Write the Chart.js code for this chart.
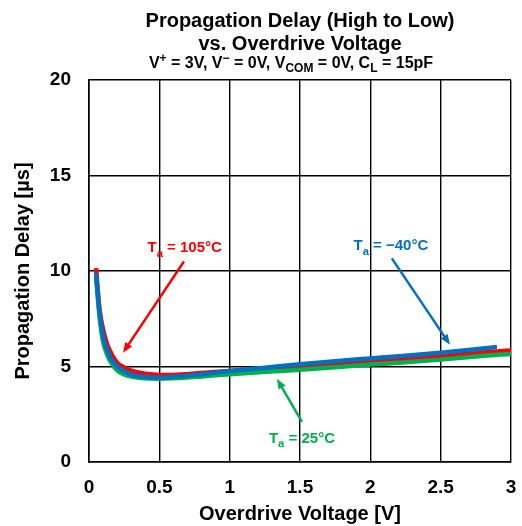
<!DOCTYPE html>
<html>
<head>
<meta charset="utf-8">
<script src="https://cdn.jsdelivr.net/npm/chart.js@4"></script>
<style>
  html, body { margin: 0; padding: 0; background: #fff; }
  #wrap { width: 522px; height: 526px; }
</style>
</head>
<body>
<div id="wrap"><canvas id="chart" width="522" height="526"></canvas></div>
<script>
// Data
const overdrive = [0.05, 0.075, 0.1, 0.125, 0.15, 0.2, 0.25, 0.3, 0.4, 0.5, 0.6, 0.8, 1.0, 1.25, 1.5, 1.75, 2.0, 2.25, 2.5, 2.75, 2.9, 3.0];
const delayMinus40 = [9.9, 7.8, 6.6, 5.95, 5.5, 5.0, 4.75, 4.58, 4.45, 4.42, 4.46, 4.6, 4.76, 4.94, 5.12, 5.28, 5.42, 5.56, 5.72, 5.9, 6.02, null];
const delay25 = [9.7, 7.6, 6.3, 5.7, 5.3, 4.8, 4.58, 4.47, 4.38, 4.36, 4.38, 4.48, 4.6, 4.72, 4.83, 4.96, 5.1, 5.22, 5.36, 5.52, 5.62, 5.65];
const delay105 = [10.15, 8.0, 6.95, 6.25, 5.8, 5.2, 4.95, 4.78, 4.62, 4.56, 4.56, 4.66, 4.76, 4.88, 5.0, 5.13, 5.27, 5.41, 5.55, 5.7, 5.79, 5.84];

const BLUE = "#0070c0", GREEN = "#00b050", RED = "#ff0000";
const FONT = "Liberation Sans, Arial, sans-serif";

// label text, colour, label centre and arrow (data coords)
const labels = [
  { temp: " = 105°C", color: RED, at: [0.68, 11.29], from: [0.675, 10.5], to: [0.242, 5.72] },
  { temp: " = \u221240°C", color: BLUE, at: [2.146, 11.39], from: [2.153, 10.66], to: [2.566, 6.14] },
  { temp: " = 25°C", color: GREEN, at: [1.514, 1.31], from: [1.514, 2.1], to: [1.336, 4.36] }
];

const toPoints = (ys) => overdrive.map((x, i) => ({ x, y: ys[i] }));

// draws text pieces with sub/superscripts, centred at cx
function drawRich(ctx, parts, cx, y, size) {
  const width = (p) => {
    ctx.font = "bold " + (p.sub || p.sup ? size * 0.75 : size) + "px " + FONT;
    return ctx.measureText(p.t).width;
  };
  let total = parts.reduce((s, p) => s + width(p), 0);
  let x = cx - total / 2;
  ctx.textAlign = "left";
  ctx.textBaseline = "alphabetic";
  parts.forEach(p => {
    const w = width(p);
    let dy = 0;
    if (p.sub) dy = size * 0.28;
    if (p.sup) dy = -size * 0.36;
    ctx.fillText(p.t, x, y + dy);
    x += w;
  });
}

const annotations = {
  id: "annotations",
  afterDraw(chart) {
    const ctx = chart.ctx;
    const xs = chart.scales.x, ys = chart.scales.y;
    ctx.save();
    // titles
    ctx.fillStyle = "#000";
    ctx.font = "bold 20px " + FONT;
    ctx.textAlign = "center";
    ctx.textBaseline = "alphabetic";
    ctx.fillText("Propagation Delay (High to Low)", 300, 27);
    ctx.fillText("vs. Overdrive Voltage", 300, 50);
    drawRich(ctx, [
      { t: "V" }, { t: "+", sup: true }, { t: " = 3V, V" }, { t: "\u2212", sup: true },
      { t: " = 0V, V" }, { t: "COM", sub: true }, { t: " = 0V, C" }, { t: "L", sub: true }, { t: " = 15pF" }
    ], 291, 68, 16);

    labels.forEach(l => {
      ctx.fillStyle = l.color;
      ctx.strokeStyle = l.color;
      drawRich(ctx, [{ t: "T" }, { t: "a", sub: true }, { t: l.temp }], xs.getPixelForValue(l.at[0]), ys.getPixelForValue(l.at[1]) + 6, 15);
      const x1 = xs.getPixelForValue(l.from[0]), y1 = ys.getPixelForValue(l.from[1]);
      const x2 = xs.getPixelForValue(l.to[0]), y2 = ys.getPixelForValue(l.to[1]);
      const ang = Math.atan2(y2 - y1, x2 - x1);
      const head = 11;
      ctx.lineWidth = 2.5;
      ctx.beginPath();
      ctx.moveTo(x1, y1);
      ctx.lineTo(x2 - Math.cos(ang) * head * 0.8, y2 - Math.sin(ang) * head * 0.8);
      ctx.stroke();
      ctx.beginPath();
      ctx.moveTo(x2, y2);
      ctx.lineTo(x2 - head * Math.cos(ang - 0.38), y2 - head * Math.sin(ang - 0.38));
      ctx.lineTo(x2 - head * Math.cos(ang + 0.38), y2 - head * Math.sin(ang + 0.38));
      ctx.closePath();
      ctx.fill();
    });
    ctx.restore();
  }
};

const lineSet = (label, ys, color) => ({
  label, data: toPoints(ys), borderColor: color, backgroundColor: color,
  borderWidth: 4.5, pointRadius: 0, cubicInterpolationMode: "monotone", spanGaps: false
});

const tickFont = { family: FONT, size: 19, weight: "bold" };
const titleFont = { family: FONT, size: 20, weight: "bold" };

new Chart(document.getElementById("chart"), {
  type: "line",
  data: {
    datasets: [
      lineSet("Ta = -40°C", delayMinus40, BLUE),
      lineSet("Ta = 25°C", delay25, GREEN),
      lineSet("Ta = 105°C", delay105, RED)
    ]
  },
  options: {
    responsive: false,
    animation: false,
    devicePixelRatio: 1,
    layout: { padding: { top: 80, right: 11, left: 0, bottom: 0 } },
    plugins: { legend: { display: false }, tooltip: { enabled: false } },
    scales: {
      x: {
        type: "linear", min: 0, max: 3,
        afterFit: (s) => { s.height = 64; s.paddingRight = 0; s.paddingLeft = 0; },
        grid: { color: "#000", lineWidth: 1.4, tickLength: 0 },
        border: { color: "#000", width: 1.6 },
        ticks: { stepSize: 0.5, color: "#000", padding: 14, font: tickFont, maxRotation: 0, callback: v => v },
        title: { display: true, text: "Overdrive Voltage [V]", color: "#000", font: titleFont, padding: { top: 0, bottom: 0 } }
      },
      y: {
        min: 0, max: 20,
        afterFit: (s) => { s.width = 89; s.paddingTop = 0; s.paddingBottom = 0; },
        grid: { color: "#000", lineWidth: 1.4, tickLength: 0 },
        border: { color: "#000", width: 1.6 },
        ticks: { stepSize: 5, color: "#000", padding: 18, font: tickFont, callback: v => v },
        title: { display: true, text: "Propagation Delay [\u00b5s]", color: "#000", font: titleFont, padding: { top: 11, bottom: 0 } }
      }
    }
  },
  plugins: [annotations]
});
</script>
</body>
</html>
